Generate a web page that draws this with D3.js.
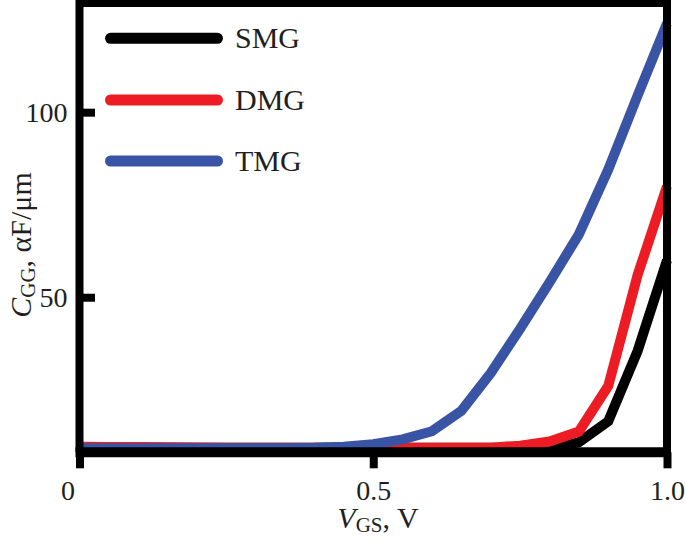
<!DOCTYPE html>
<html>
<head>
<meta charset="utf-8">
<script src="https://cdn.jsdelivr.net/npm/d3@7"></script>
<style>
  html, body { margin: 0; padding: 0; background: #fff; }
  svg { display: block; }
  text { font-family: "Liberation Serif", "DejaVu Serif", serif; fill: #231f20; }
</style>
</head>
<body>
<svg id="chart" width="685" height="541"></svg>
<script>
// ---- data ----
const vgs = [0, 0.05, 0.1, 0.15, 0.2, 0.25, 0.3, 0.35, 0.4, 0.45, 0.5,
             0.55, 0.6, 0.65, 0.7, 0.75, 0.8, 0.85, 0.9, 0.95, 1.0];
const smg = [9.3, 9.3, 9.3, 9.3, 9.3, 9.3, 9.3, 9.3, 9.3, 9.3, 9.3,
             9.3, 9.3, 9.3, 9.3, 9.3, 9.3, 10.8, 16.5, 35.5, 60];
const dmg = [9.6, 9.55, 9.5, 9.45, 9.4, 9.35, 9.3, 9.3, 9.3, 9.3, 9.3,
             9.3, 9.3, 9.3, 9.35, 9.9, 11.0, 13.7, 26, 56, 80];
const tmg = [9.2, 9.2, 9.2, 9.2, 9.2, 9.2, 9.2, 9.2, 9.3, 9.6, 10.3,
             11.6, 13.8, 19.3, 29.5, 41.5, 54, 67, 84.5, 104.5, 124];
const seriesNames = ["SMG", "DMG", "TMG"];
const seriesColors = ["#000000", "#ed1c24", "#3953a5"];
const xTickValues = [0, 0.5, 1.0];
const xTickLabels = ["0", "0.5", "1.0"];
const yTickValues = [50, 100];
const yTickLabels = ["50", "100"];
const xDomain = [0, 1];
const yDomain = [8.1, 129.5];

// ---- layout ----
const svg = d3.select("#chart");
const x = d3.scaleLinear().domain(xDomain).range([79.5, 667]);
const y = d3.scaleLinear().domain(yDomain).range([452.3, 3]);

const seriesValues = [smg, dmg, tmg];
const line = d3.line().x(d => x(d[0])).y(d => y(d[1]));

// data lines (drawn first, frame on top)
seriesValues.forEach((vals, i) => {
  svg.append("path")
    .datum(vgs.map((v, j) => [v, vals[j]]))
    .attr("d", line)
    .attr("fill", "none")
    .attr("stroke", seriesColors[i])
    .attr("stroke-width", 10)
    .attr("stroke-linejoin", "miter")
    .attr("stroke-miterlimit", 2);
});

// frame
const x0 = x(xDomain[0]), x1 = x(xDomain[1]);
const yTop = y(yDomain[1]), yBot = y(yDomain[0]);
svg.append("line").attr("x1", x0).attr("x2", x1).attr("y1", yTop).attr("y2", yTop)
  .attr("stroke", "#000").attr("stroke-width", 8);
svg.append("line").attr("x1", x0).attr("x2", x0).attr("y1", yTop - 4).attr("y2", yBot)
  .attr("stroke", "#000").attr("stroke-width", 8);
svg.append("line").attr("x1", x1).attr("x2", x1).attr("y1", yTop - 4).attr("y2", yBot)
  .attr("stroke", "#000").attr("stroke-width", 8);
svg.append("line").attr("x1", x0 - 4).attr("x2", x1 + 4).attr("y1", yBot).attr("y2", yBot)
  .attr("stroke", "#000").attr("stroke-width", 10);

// x axis
const xAxis = d3.axisBottom(x)
  .tickValues(xTickValues)
  .tickFormat((d, i) => xTickLabels[i])
  .tickSizeInner(16)
  .tickSizeOuter(0)
  .tickPadding(12);
const gx = svg.append("g").attr("transform", `translate(0,${yBot})`).call(xAxis);
gx.select(".domain").remove();
gx.selectAll(".tick line").attr("stroke", "#000").attr("stroke-width", 8);
gx.selectAll(".tick text")
  .attr("font-size", 28)
  .attr("fill", "#231f20")
  .attr("font-family", "Liberation Serif")
  .attr("dx", (d, i) => i === 0 ? -12 : 0);

// y axis
const yAxis = d3.axisLeft(y)
  .tickValues(yTickValues)
  .tickFormat((d, i) => yTickLabels[i])
  .tickSizeInner(-15.5)
  .tickSizeOuter(0)
  .tickPadding(12);
const gy = svg.append("g").attr("transform", `translate(${x0},0)`).call(yAxis);
gy.select(".domain").remove();
gy.selectAll(".tick line").attr("stroke", "#000").attr("stroke-width", 8);
gy.selectAll(".tick text")
  .attr("font-size", 28)
  .attr("fill", "#231f20")
  .attr("font-family", "Liberation Serif");

// axis labels
const xl = svg.append("text")
  .attr("x", 378).attr("y", 528)
  .attr("text-anchor", "middle")
  .attr("font-size", 30);
xl.append("tspan").attr("font-style", "italic").text("V");
xl.append("tspan").attr("font-size", 21).attr("dy", 4).text("GS");
xl.append("tspan").attr("dy", -4).text(", V");

const yl = svg.append("text")
  .attr("transform", "translate(31,245) rotate(-90)")
  .attr("text-anchor", "middle")
  .attr("font-size", 30);
yl.append("tspan").attr("font-style", "italic").text("C");
yl.append("tspan").attr("font-size", 21).attr("dy", 4).text("GG");
yl.append("tspan").attr("dy", -4).text(", \u03B1F/\u03BCm");

// legend
const legendY = [38.3, 100, 161];
seriesNames.forEach((name, i) => {
  svg.append("line")
    .attr("x1", 110.5).attr("x2", 217.5)
    .attr("y1", legendY[i]).attr("y2", legendY[i])
    .attr("stroke", seriesColors[i])
    .attr("stroke-width", 11)
    .attr("stroke-linecap", "round");
  svg.append("text")
    .attr("x", 235).attr("y", legendY[i] + 10)
    .attr("font-size", 30)
    .text(name);
});
</script>
</body>
</html>
